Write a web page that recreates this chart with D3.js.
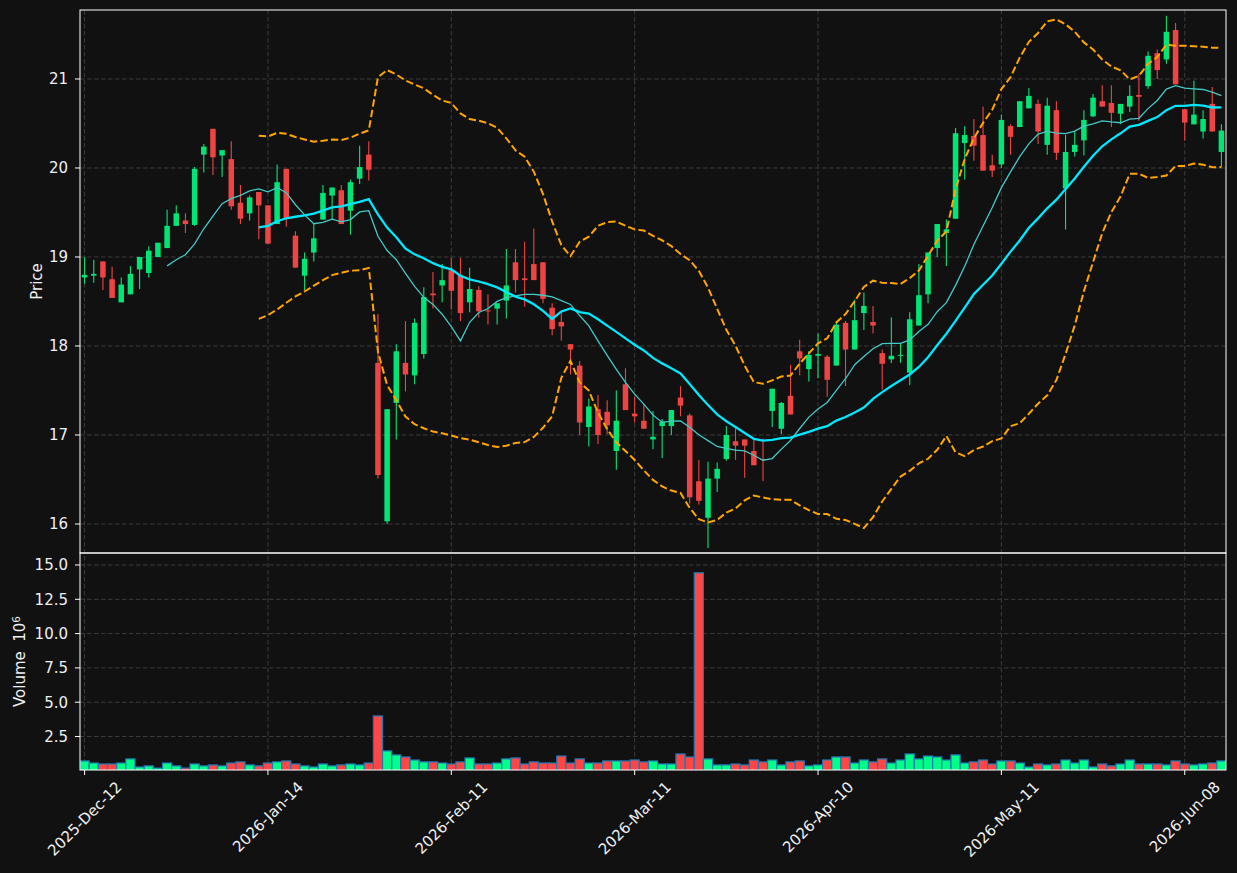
<html>
    <meta charset="utf-8">
    <head>
        <title> Candles </title>
        <script charset="utf-8" src="https://cdn.jsdelivr.net/npm/d3@7"></script>
        <style>
            body { margin: 0; background: #111111; }
            text { font-family: "DejaVu Sans", sans-serif; fill: #f0f0f0; }
        </style>
    </head>
    <body>
        <svg id="chart" width="1237" height="873"></svg>
    </body>
    <script type="text/javascript">
        // OHLC, one entry per trading day
        let opens = [18.77,18.79,18.95,18.75,18.49,18.58,18.86,18.82,19.00,19.10,
            19.35,19.41,19.36,20.15,20.44,20.14,20.10,19.61,19.49,19.73,
            19.58,19.37,19.99,19.24,18.79,19.05,19.42,19.69,19.75,19.52,
            19.88,20.15,17.81,16.03,17.36,17.81,17.67,17.91,18.59,18.68,
            18.85,18.80,18.49,18.63,18.40,18.42,18.51,18.94,18.76,18.92,
            18.94,18.43,18.27,18.02,17.78,17.09,17.29,17.26,16.82,17.57,
            17.24,17.16,16.95,17.10,17.10,17.42,17.22,16.48,16.07,16.51,
            16.73,16.93,16.95,16.82,16.73,17.27,17.07,17.44,17.94,17.74,
            17.89,17.88,17.78,18.26,17.96,18.37,18.27,17.92,17.85,17.89,
            17.70,18.23,18.58,19.10,19.27,19.43,20.28,20.36,20.37,20.03,
            20.04,20.47,20.46,20.67,20.72,20.26,20.65,19.77,20.18,20.31,
            20.58,20.75,20.73,20.61,20.69,20.82,20.92,21.29,21.22,21.55,
            20.66,20.49,20.41,20.72,20.18];
        let highs = [19.00,18.97,18.95,18.89,18.77,18.90,19.00,19.12,19.16,19.53,
            19.58,19.49,20.01,20.27,20.44,20.20,20.30,19.81,19.69,19.73,
            19.58,20.04,19.99,19.29,19.05,19.38,19.81,19.78,19.81,19.87,
            20.25,20.30,18.36,17.29,18.02,18.28,18.31,18.66,18.83,18.92,
            18.99,18.99,18.88,18.67,18.58,18.48,19.09,19.09,19.17,19.32,
            18.94,18.48,18.39,18.02,17.83,17.41,17.45,17.39,17.50,17.75,
            17.43,17.35,17.27,17.18,17.28,17.55,17.24,16.72,16.70,16.69,
            17.10,17.08,16.95,16.95,16.96,17.52,17.37,17.79,18.07,17.94,
            18.14,17.90,18.28,18.28,18.52,18.60,18.45,17.96,18.32,18.03,
            18.38,18.92,19.05,19.37,19.42,20.45,20.47,20.55,20.69,20.15,
            20.60,20.49,20.75,20.90,20.77,20.79,20.75,20.37,20.41,20.65,
            20.83,20.93,20.93,20.72,20.93,21.06,21.31,21.33,21.71,21.63,
            20.66,20.98,20.65,20.91,20.49];
        let lows = [18.70,18.71,18.63,18.54,18.49,18.58,18.64,18.77,19.00,19.10,
            19.35,19.27,19.35,19.95,19.92,19.90,19.53,19.37,19.41,19.20,
            19.15,19.37,19.34,18.88,18.63,18.95,19.42,19.42,19.37,19.25,
            19.82,19.86,16.51,16.00,16.95,17.49,17.57,17.86,18.42,18.49,
            18.41,18.28,18.38,18.32,18.24,18.24,18.31,18.60,18.44,18.74,
            18.48,18.12,18.06,17.68,17.00,16.87,16.90,17.01,16.61,17.28,
            17.14,17.07,16.84,16.74,17.00,17.21,16.23,16.22,15.73,16.36,
            16.71,16.72,16.52,16.66,16.48,17.09,17.01,17.23,17.67,17.60,
            17.64,17.43,17.78,17.55,17.96,18.18,18.14,17.51,17.81,17.81,
            17.56,18.23,18.48,19.00,18.90,19.43,19.87,20.08,19.97,19.90,
            20.00,20.15,20.46,20.67,20.27,20.15,20.09,19.31,20.13,20.14,
            20.57,20.69,20.46,20.49,20.63,20.53,20.89,21.00,21.17,20.94,
            20.31,20.49,20.33,20.41,20.01];
        let closes = [18.80,18.81,18.77,18.54,18.69,18.81,19.00,19.07,19.16,19.35,
            19.49,19.37,19.99,20.24,20.12,20.20,19.57,19.43,19.67,19.58,
            19.15,19.84,19.43,18.88,18.98,19.21,19.72,19.78,19.37,19.84,
            20.01,19.98,16.55,17.29,17.94,17.68,18.26,18.55,18.57,18.74,
            18.62,18.37,18.64,18.39,18.39,18.48,18.68,18.74,18.74,18.74,
            18.53,18.19,18.22,17.96,17.14,17.32,17.00,17.11,17.16,17.28,
            17.21,17.07,16.98,17.15,17.28,17.33,16.30,16.26,16.51,16.62,
            17.00,16.88,16.88,16.66,16.72,17.52,17.36,17.23,17.86,17.90,
            17.91,17.62,18.24,17.96,18.29,18.45,18.23,17.80,17.89,17.90,
            18.30,18.57,19.05,19.37,19.31,20.39,20.37,20.25,19.97,19.97,
            20.54,20.35,20.75,20.81,20.41,20.70,20.17,20.18,20.26,20.54,
            20.79,20.69,20.62,20.72,20.81,20.80,21.26,21.10,21.53,20.94,
            20.51,20.60,20.55,20.41,20.42];
        // volume in millions
        let volumes = [0.72,0.57,0.50,0.50,0.57,0.87,0.28,0.36,0.20,0.57,
            0.36,0.20,0.50,0.36,0.43,0.36,0.57,0.65,0.43,0.36,
            0.57,0.65,0.72,0.50,0.36,0.28,0.50,0.36,0.43,0.50,
            0.43,0.57,4.00,1.45,1.16,1.01,0.79,0.65,0.65,0.57,
            0.50,0.65,0.94,0.50,0.50,0.57,0.87,0.94,0.50,0.65,
            0.57,0.57,1.08,0.57,0.87,0.57,0.57,0.72,0.72,0.72,
            0.79,0.65,0.72,0.50,0.50,1.23,1.01,14.43,0.87,0.43,
            0.43,0.50,0.43,0.79,0.65,0.79,0.43,0.65,0.72,0.36,
            0.43,0.79,1.01,1.01,0.57,0.79,0.65,0.87,0.57,0.79,
            1.23,0.87,1.08,1.01,0.79,1.16,0.57,0.65,0.79,0.50,
            0.72,0.72,0.57,0.28,0.50,0.43,0.50,0.79,0.57,0.79,
            0.28,0.50,0.36,0.50,0.79,0.50,0.50,0.50,0.43,0.72,
            0.50,0.43,0.50,0.57,0.72];

        let tickIdx = [0, 20, 40, 60, 80, 100, 120];
        let tickLabels = ["2025-Dec-12", "2026-Jan-14", "2026-Feb-11", "2026-Mar-11",
                          "2026-Apr-10", "2026-May-11", "2026-Jun-08"];
        let priceTicks = [16, 17, 18, 19, 20, 21];
        let volTicks = [2.5, 5.0, 7.5, 10.0, 12.5, 15.0];

        let upCol = "#00e676", downCol = "#ef4444";
        let volUp = "#00ff88", volDown = "#ff4646";
        let gridCol = "#3c3c3c";

        // panel edges (px)
        let pLeft = 80, pRight = 1226, pTop = 10, pMid = 553, pBottom = 770;
        let n = closes.length;

        // rolling helpers (mav 10 / 20 and bollinger 20, 2 sigma)
        function sma(arr, w) {
            return arr.map((d, i) => i < w - 1 ? null : d3.mean(arr.slice(i - w + 1, i + 1)));
        }
        function band(arr, w, k) {
            return arr.map((d, i) => {
                if (i < w - 1) return null;
                let s = arr.slice(i - w + 1, i + 1);
                let m = d3.mean(s);
                let sd = Math.sqrt(d3.mean(s, v => (v - m) * (v - m)));
                return m + k * sd;
            });
        }
        let ma10 = sma(closes, 10);
        let ma20 = sma(closes, 20);
        let bbUp = band(closes, 20, 2);
        let bbLow = band(closes, 20, -2);

        let svg = d3.select("#chart");
        svg.append("rect").attr("width", 1237).attr("height", 873).attr("fill", "#111111");

        let x = d3.scaleLinear().domain([-0.5, n - 0.5]).range([pLeft, pRight]);
        let y = d3.scaleLinear().domain([15.674, 21.775]).range([pMid, pTop]);
        let vy = d3.scaleLinear().domain([0.3 * d3.min(volumes), 1.1 * d3.max(volumes)]).range([pBottom, pMid]);
        let step = x(1) - x(0);

        let defs = svg.append("defs");
        defs.append("clipPath").attr("id", "clipP").append("rect")
            .attr("x", pLeft).attr("y", pTop).attr("width", pRight - pLeft).attr("height", pMid - pTop);
        defs.append("clipPath").attr("id", "clipV").append("rect")
            .attr("x", pLeft).attr("y", pMid).attr("width", pRight - pLeft).attr("height", pBottom - pMid);

        // grid
        let grid = svg.append("g").attr("stroke", gridCol).attr("stroke-width", 1).attr("stroke-dasharray", "4.5,2.5");
        grid.selectAll(".gx").data(tickIdx).join("line").attr("class", "gx")
            .attr("x1", d => x(d)).attr("x2", d => x(d)).attr("y1", pTop).attr("y2", pBottom);
        grid.selectAll(".gy").data(priceTicks).join("line").attr("class", "gy")
            .attr("x1", pLeft).attr("x2", pRight).attr("y1", d => y(d)).attr("y2", d => y(d));
        grid.selectAll(".gv").data(volTicks).join("line").attr("class", "gv")
            .attr("x1", pLeft).attr("x2", pRight).attr("y1", d => vy(d)).attr("y2", d => vy(d));

        // candles
        let idx = d3.range(n);
        let pg = svg.append("g").attr("clip-path", "url(#clipP)");
        let cg = pg.append("g");
        cg.selectAll(".wick").data(idx).join("line").attr("class", "wick")
            .attr("x1", i => x(i)).attr("x2", i => x(i))
            .attr("y1", i => y(highs[i])).attr("y2", i => y(lows[i]))
            .attr("stroke", i => closes[i] >= opens[i] ? upCol : downCol)
            .attr("stroke-width", 1.1);
        cg.selectAll(".body").data(idx).join("rect").attr("class", "body")
            .attr("x", i => x(i) - step * 0.3)
            .attr("width", step * 0.6)
            .attr("y", i => y(Math.max(opens[i], closes[i])))
            .attr("height", i => Math.max(1, Math.abs(y(opens[i]) - y(closes[i]))))
            .attr("fill", i => closes[i] >= opens[i] ? upCol : downCol);

        // overlays
        let line = arr => d3.line().defined(i => arr[i] != null).x(i => x(i)).y(i => y(arr[i]))(idx);
        pg.append("path").attr("d", line(bbUp)).attr("fill", "none")
            .attr("stroke", "#ffa500").attr("stroke-width", 2).attr("stroke-dasharray", "7.4,3.2");
        pg.append("path").attr("d", line(bbLow)).attr("fill", "none")
            .attr("stroke", "#ffa500").attr("stroke-width", 2).attr("stroke-dasharray", "7.4,3.2");
        pg.append("path").attr("d", line(ma10)).attr("fill", "none")
            .attr("stroke", "#45c8c8").attr("stroke-width", 1.3);
        pg.append("path").attr("d", line(ma20)).attr("fill", "none")
            .attr("stroke", "#00e8ff").attr("stroke-width", 2.3);

        // volume
        svg.append("g").attr("clip-path", "url(#clipV)")
            .selectAll("rect").data(idx).join("rect")
            .attr("x", i => x(i - 0.5))
            .attr("width", step)
            .attr("y", i => vy(volumes[i]))
            .attr("height", i => vy(0) - vy(volumes[i]))
            .attr("fill", i => closes[i] >= opens[i] ? volUp : volDown)
            .attr("stroke", "#1f77b4").attr("stroke-width", 1.2);

        // frames
        let frame = svg.append("g").attr("fill", "none").attr("stroke", "#ffffff").attr("stroke-width", 1);
        frame.append("rect").attr("x", pLeft).attr("y", pTop).attr("width", pRight - pLeft).attr("height", pMid - pTop);
        frame.append("rect").attr("x", pLeft).attr("y", pMid).attr("width", pRight - pLeft).attr("height", pBottom - pMid);

        // axes
        let fs = 15;
        let yAx = svg.append("g");
        yAx.selectAll(".pt").data(priceTicks).join("line").attr("class", "pt")
            .attr("x1", pLeft - 5).attr("x2", pLeft).attr("y1", d => y(d)).attr("y2", d => y(d))
            .attr("stroke", "#ffffff");
        yAx.selectAll(".pl").data(priceTicks).join("text").attr("class", "pl")
            .attr("x", pLeft - 12).attr("y", d => y(d)).attr("dy", "0.36em")
            .attr("text-anchor", "end").style("font-size", fs + "px").text(d => d);
        yAx.selectAll(".vt").data(volTicks).join("line").attr("class", "vt")
            .attr("x1", pLeft - 5).attr("x2", pLeft).attr("y1", d => vy(d)).attr("y2", d => vy(d))
            .attr("stroke", "#ffffff");
        yAx.selectAll(".vl").data(volTicks).join("text").attr("class", "vl")
            .attr("x", pLeft - 12).attr("y", d => vy(d)).attr("dy", "0.36em")
            .attr("text-anchor", "end").style("font-size", fs + "px").text(d => d3.format(".1f")(d));

        let xAx = svg.append("g");
        xAx.selectAll("line").data(tickIdx).join("line")
            .attr("x1", d => x(d)).attr("x2", d => x(d)).attr("y1", pBottom).attr("y2", pBottom + 5)
            .attr("stroke", "#ffffff");
        xAx.selectAll("text").data(tickIdx).join("text")
            .style("font-size", fs + "px")
            .attr("text-anchor", "middle").attr("dy", "0.35em")
            .text((d, i) => tickLabels[i])
            .attr("transform", function(d) {
                let L = this.getComputedTextLength();
                let w = (L + fs) * Math.SQRT1_2;
                return `translate(${x(d)},${pBottom + 9 + w / 2}) rotate(-45)`;
            });

        svg.append("text").attr("transform", `translate(42,${(pTop + pMid) / 2}) rotate(-90)`)
            .attr("text-anchor", "middle").style("font-size", fs + "px").text("Price");
        let vlab = svg.append("text").attr("transform", `translate(25,${(pMid + pBottom) / 2}) rotate(-90)`)
            .attr("text-anchor", "middle").style("font-size", fs + "px");
        vlab.append("tspan").text("Volume\u00a0\u00a010");
        vlab.append("tspan").attr("dy", "-0.45em").style("font-size", "10.5px").text("6");
    </script>
</html>
